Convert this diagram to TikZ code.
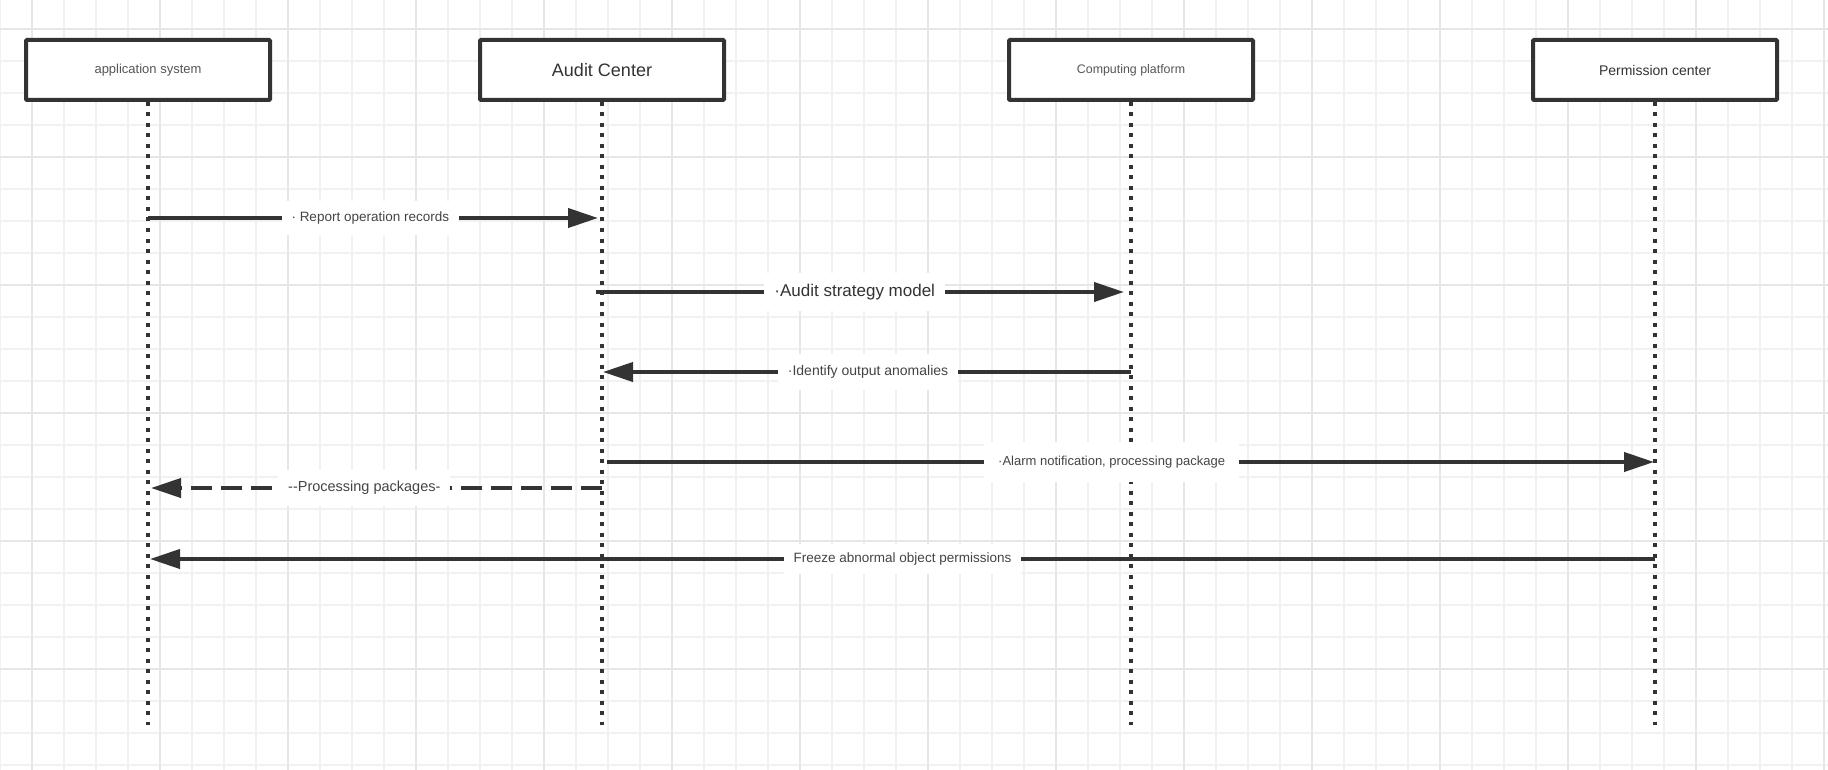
\documentclass[tikz,border=0pt]{standalone}
\usepackage{fontspec}
\setmainfont{Liberation Sans}
\usetikzlibrary{arrows.meta}
\definecolor{ink}{HTML}{333333}
\definecolor{txt}{HTML}{444444}
\definecolor{txtlight}{HTML}{555555}
\definecolor{gridminor}{HTML}{F1F1F1}
\definecolor{gridmajor}{HTML}{E7E7E7}
\begin{document}
\begin{tikzpicture}[x=1pt,y=-1pt,
  actor/.style={draw=ink, line width=4pt, fill=white, minimum width=244pt, minimum height=60pt, inner sep=0pt, rounded corners=1pt},
  lifeline/.style={draw=ink, line width=4pt, dash pattern=on 4pt off 6.5pt},
  msg/.style={draw=ink, line width=4pt, -{Triangle[length=30pt,width=19pt]}},
  reply/.style={msg, dash pattern=on 21pt off 9pt},
  lbl/.style={fill=white, text=txt, inner xsep=10pt, inner ysep=11pt, font=\fontsize{13.5}{16}\selectfont},
]
\useasboundingbox (0,0) rectangle (1828,770);
\fill[white] (0,0) rectangle (1828,770);
% grid
\foreach \x in {0,32,...,1824} \draw[gridminor, line width=2pt] (\x,0) -- (\x,770);
\foreach \y in {29,61,...,765} \draw[gridminor, line width=2pt] (0,\y) -- (1828,\y);
\foreach \x in {32,160,...,1824} \draw[gridmajor, line width=2.5pt] (\x,0) -- (\x,770);
\foreach \y in {29,157,...,765} \draw[gridmajor, line width=2.5pt] (0,\y) -- (1828,\y);

% actors
\node[actor, text=txtlight, font=\fontsize{13}{15}\selectfont] (A) at (148,70) {application system};
\node[actor, text=ink, font=\fontsize{18}{21}\selectfont] (B) at (602,70) {Audit Center};
\node[actor, text=txtlight, font=\fontsize{12.4}{15}\selectfont] (C) at (1131,70) {Computing platform};
\node[actor, text=ink, font=\fontsize{14}{17}\selectfont] (D) at (1655,70) {Permission center};

% lifeline ends
\coordinate (A-end) at (148,725);
\coordinate (B-end) at (602,725);
\coordinate (C-end) at (1131,725);
\coordinate (D-end) at (1655,725);
\draw[lifeline] (A.south) -- (A-end);
\draw[lifeline] (B.south) -- (B-end);
\draw[lifeline] (C.south) -- (C-end);
\draw[lifeline] (D.south) -- (D-end);

% message anchors
\coordinate (A-m1) at (148,218);  \coordinate (B-m1) at (598,218);
\coordinate (B-m2) at (596,292);  \coordinate (C-m2) at (1124,292);
\coordinate (C-m3) at (1131,372); \coordinate (B-m3) at (603,372);
\coordinate (B-m4) at (607,462);  \coordinate (D-m4) at (1654,462);
\coordinate (B-m5) at (602,488);  \coordinate (A-m5) at (151,488);
\coordinate (D-m6) at (1655,559); \coordinate (A-m6) at (150,559);

% messages
\draw[msg] (A-m1) -- node[lbl, pos=0.494] (l1) {· Report operation records} (B-m1);
\draw[msg] (B-m2) -- node[lbl, pos=0.49, text=ink, font=\fontsize{17}{20}\selectfont] (l2) {·Audit strategy model} (C-m2);
\draw[msg] (C-m3) -- node[lbl, pos=0.498, font=\fontsize{14}{17}\selectfont] (l3) {·Identify output anomalies} (B-m3);
\draw[msg] (B-m4) -- node[lbl, pos=0.482, font=\fontsize{13}{16}\selectfont, inner xsep=14pt, inner ysep=14pt] (l4) {·Alarm notification, processing package} (D-m4);
\draw[reply] (B-m5) -- node[lbl, pos=0.527, font=\fontsize{14.5}{17}\selectfont] (l5) {{-}{-}Processing packages-} (A-m5);
\draw[msg] (D-m6) -- node[lbl, pos=0.5, inner ysep=9pt] (l6) {Freeze abnormal object permissions} (A-m6);
\end{tikzpicture}
\end{document}
